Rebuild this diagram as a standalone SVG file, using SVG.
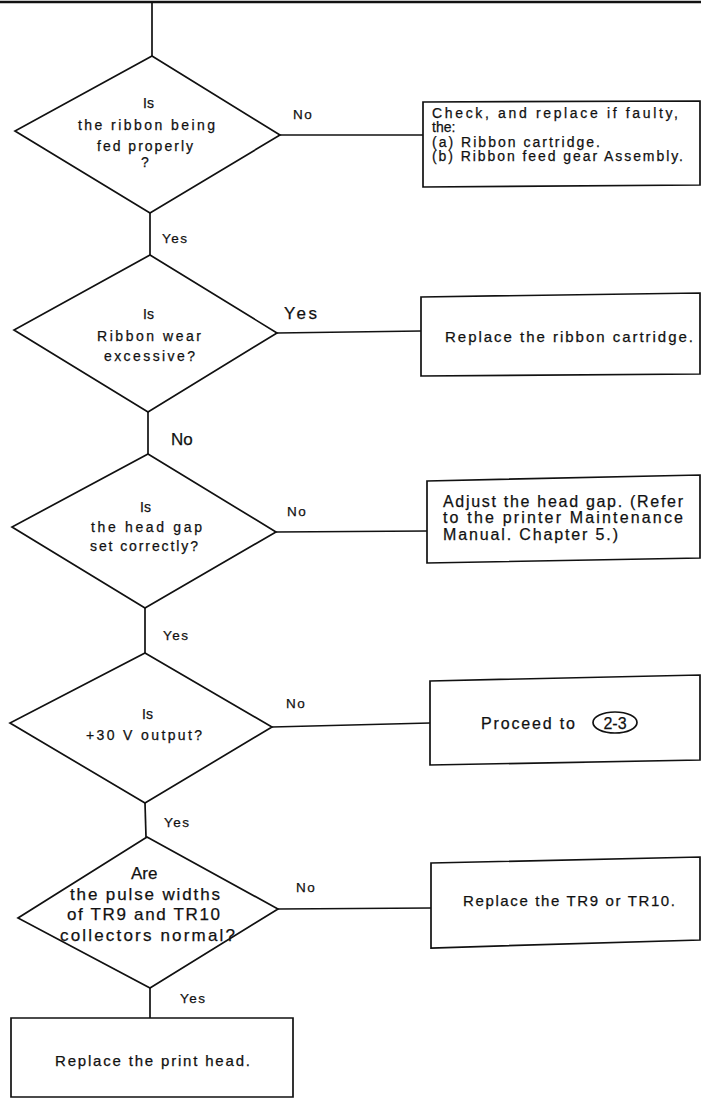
<svg xmlns="http://www.w3.org/2000/svg" width="701" height="1101" viewBox="0 0 701 1101">
<style>
.ln{stroke:#111;stroke-width:1.7;fill:none}
.shape{stroke:#111;stroke-width:1.7;fill:none;stroke-linejoin:miter}
text{font-family:"Liberation Sans",Arial,sans-serif;fill:#111;stroke:#111;stroke-width:0.25}
.s13{font-size:13.5px}
.s14{font-size:14px}
.s15{font-size:15px}
.s16{font-size:16px}
.s17{font-size:17px}
.mid{text-anchor:middle}
.lbl{letter-spacing:1.5px}
</style>
<rect width="701" height="1101" fill="#fff"/>
<g id="connectors">
<line class="ln" x1="0" y1="2" x2="701" y2="2" style="stroke-width:2.5"/>
<line class="ln" x1="152" y1="2" x2="152" y2="56"/>
<line class="ln" x1="280" y1="135" x2="423" y2="135"/>
<line class="ln" x1="150" y1="213" x2="150" y2="255"/>
<line class="ln" x1="277" y1="333" x2="421" y2="331"/>
<line class="ln" x1="148" y1="412" x2="148" y2="454"/>
<line class="ln" x1="276" y1="532" x2="427" y2="531"/>
<line class="ln" x1="145" y1="608" x2="145" y2="653"/>
<line class="ln" x1="272" y1="727" x2="430" y2="723"/>
<line class="ln" x1="145" y1="803" x2="146" y2="837"/>
<line class="ln" x1="278" y1="909" x2="431" y2="908"/>
<line class="ln" x1="150" y1="988" x2="150" y2="1018"/>
<text class="s13 lbl" x="293" y="119">No</text>
<text class="s13 lbl" x="162" y="243">Yes</text>
<text class="s17" x="284" y="319" textLength="33" lengthAdjust="spacing">Yes</text>
<text class="s17" x="171" y="445">No</text>
<text class="s13 lbl" x="287" y="516">No</text>
<text class="s13 lbl" x="163" y="640">Yes</text>
<text class="s13 lbl" x="286" y="708">No</text>
<text class="s13 lbl" x="164" y="827">Yes</text>
<text class="s13 lbl" x="296" y="892">No</text>
<text class="s13 lbl" x="180" y="1003">Yes</text>
</g>
<g id="d1">
<polygon class="shape" points="152,56 280,135 150,213 15,131"/>
<text class="s14" x="143" y="108">Is</text>
<text class="s14" x="78" y="130" textLength="137" lengthAdjust="spacing">the ribbon being</text>
<text class="s14" x="97" y="151" textLength="96" lengthAdjust="spacing">fed properly</text>
<text class="s14 mid" x="145" y="167">?</text>
</g>
<g id="b1">
<polygon class="shape" points="423,102 700,101 700,185 423,187"/>
<text class="s14" x="432" y="118" textLength="246" lengthAdjust="spacing">Check, and replace if faulty,</text>
<text class="s14" x="432" y="132">the:</text>
<text class="s14" x="432" y="147" textLength="168" lengthAdjust="spacing">(a) Ribbon cartridge.</text>
<text class="s14" x="432" y="161" textLength="251" lengthAdjust="spacing">(b) Ribbon feed gear Assembly.</text>
</g>
<g id="d2">
<polygon class="shape" points="150,255 277,333 148,412 14,330"/>
<text class="s14" x="143" y="319">Is</text>
<text class="s14" x="97" y="341" textLength="104" lengthAdjust="spacing">Ribbon wear</text>
<text class="s14" x="104" y="361" textLength="91" lengthAdjust="spacing">excessive?</text>
</g>
<g id="b2">
<polygon class="shape" points="421,297 700,293 700,374 421,376"/>
<text class="s15" x="445" y="342" textLength="248" lengthAdjust="spacing">Replace the ribbon cartridge.</text>
</g>
<g id="d3">
<polygon class="shape" points="148,454 276,532 145,608 12,527"/>
<text class="s14" x="140" y="512">Is</text>
<text class="s14" x="91" y="532" textLength="111" lengthAdjust="spacing">the head gap</text>
<text class="s14" x="90" y="551" textLength="108" lengthAdjust="spacing">set correctly?</text>
</g>
<g id="b3">
<polygon class="shape" points="427,481 700,475 700,558 427,563"/>
<text class="s16" x="443" y="507" textLength="240" lengthAdjust="spacing">Adjust the head gap. (Refer</text>
<text class="s16" x="443" y="523" textLength="240" lengthAdjust="spacing">to the printer Maintenance</text>
<text class="s16" x="443" y="540" textLength="175" lengthAdjust="spacing">Manual. Chapter 5.)</text>
</g>
<g id="d4">
<polygon class="shape" points="145,653 272,727 145,803 10,723"/>
<text class="s14" x="142" y="719">Is</text>
<text class="s14" x="86" y="740" textLength="116" lengthAdjust="spacing">+30 V output?</text>
</g>
<g id="b4">
<polygon class="shape" points="430,681 700,675 700,760 430,765"/>
<text class="s16" x="481" y="729" textLength="94" lengthAdjust="spacing">Proceed to</text>
<ellipse class="shape" cx="615" cy="722.5" rx="22" ry="10.5"/>
<text class="s16 mid" x="615" y="728.5">2-3</text>
</g>
<g id="d5">
<polygon class="shape" points="147,837 278,909 150,988 18,918"/>
<text class="s17" x="131" y="879">Are</text>
<text class="s17" x="70" y="900" textLength="150" lengthAdjust="spacing">the pulse widths</text>
<text class="s17" x="67" y="920" textLength="153" lengthAdjust="spacing">of TR9 and TR10</text>
<text class="s17" x="60" y="941" textLength="175" lengthAdjust="spacing">collectors normal?</text>
</g>
<g id="b5">
<polygon class="shape" points="431,863 700,857 700,940 431,948"/>
<text class="s15" x="463" y="906" textLength="212" lengthAdjust="spacing">Replace the TR9 or TR10.</text>
</g>
<g id="b6">
<polygon class="shape" points="11,1018 293,1018 293,1097 11,1097"/>
<text class="s15" x="55" y="1066" textLength="195" lengthAdjust="spacing">Replace the print head.</text>
</g>
</svg>
